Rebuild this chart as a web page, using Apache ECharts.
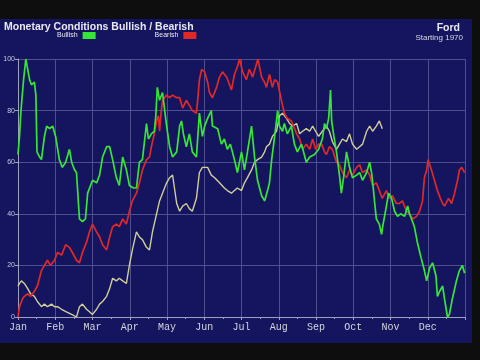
<!DOCTYPE html>
<html><head><meta charset="utf-8">
<script src="https://cdn.jsdelivr.net/npm/echarts@6/dist/echarts.min.js"></script>
<style>html,body{margin:0;padding:0;background:#0e0e0e}#c{width:480px;height:360px}</style>
</head><body><div id="c"></div>
<script>
// x values are in months from Jan 1 (0 = Jan, 12 = end of Dec)
const monthLabels = ['Jan','Feb','Mar','Apr','May','Jun','Jul','Aug','Sep','Oct','Nov','Dec'];
const yTicks = [0,20,40,60,80,100];

const bullishX = [0.00,0.04,0.08,0.15,0.21,0.26,0.31,0.36,0.44,0.48,0.51,0.58,0.63,0.71,0.77,0.85,0.93,1.01,1.11,1.19,1.28,1.38,1.44,1.52,1.57,1.65,1.73,1.81,1.87,2.00,2.11,2.19,2.27,2.38,2.46,2.54,2.64,2.72,2.81,2.91,2.99,3.10,3.18,3.26,3.34,3.45,3.50,3.58,3.66,3.70,3.74,3.80,3.88,3.93,3.99,4.07,4.15,4.26,4.34,4.39,4.44,4.52,4.60,4.68,4.79,4.87,4.95,5.01,5.09,5.19,5.22,5.36,5.46,5.54,5.62,5.70,5.81,5.89,6.00,6.08,6.16,6.27,6.35,6.43,6.54,6.62,6.70,6.75,6.81,6.89,6.97,7.02,7.10,7.15,7.23,7.34,7.42,7.50,7.61,7.74,7.83,7.96,8.07,8.17,8.23,8.28,8.34,8.39,8.42,8.47,8.55,8.63,8.68,8.74,8.82,8.90,8.98,9.09,9.17,9.25,9.36,9.44,9.49,9.53,9.57,9.62,9.70,9.76,9.79,9.84,9.89,9.95,10.03,10.11,10.19,10.27,10.38,10.46,10.51,10.59,10.64,10.72,10.82,10.91,10.97,11.05,11.13,11.22,11.26,11.32,11.40,11.45,11.53,11.58,11.66,11.77,11.85,11.93,11.99];
const bullishY = [63,70,80,92,100,96,92,90,91,86,64,62,61,70,74,73,74,70,61,58,60,65,60,57,56,38,37,38,48,53,52,55,62,66,66,61,54,51,62,57,51,50,50,60,61,75,69,71,72,78,89,84,87,81,74,66,62,64,74,76,71,66,71,64,62,79,70,74,77,80,74,73,67,69,65,67,61,56,64,57,64,74,62,53,47,45,49,52,61,70,80,74,72,75,71,74,67,64,67,60,62,63,65,69,75,73,77,88,76,71,64,55,48,54,64,58,54,55,56,53,56,60,56,51,45,38,36,32,35,39,43,48,46,41,39,40,39,43,40,37,35,29,23,18,14,19,21,16,8,10,12,7,0,1,7,14,18,20,17];

const bearishX = [0.00,0.04,0.12,0.17,0.26,0.34,0.44,0.52,0.63,0.71,0.79,0.87,0.98,1.06,1.17,1.28,1.38,1.46,1.57,1.65,1.73,1.84,1.92,2.00,2.11,2.19,2.27,2.38,2.46,2.54,2.64,2.72,2.81,2.91,2.99,3.07,3.18,3.26,3.34,3.45,3.53,3.58,3.66,3.72,3.77,3.80,3.84,3.88,3.99,4.07,4.15,4.26,4.34,4.42,4.52,4.60,4.68,4.79,4.83,4.87,4.93,5.01,5.09,5.14,5.22,5.33,5.41,5.49,5.60,5.68,5.73,5.81,5.89,5.95,6.03,6.13,6.21,6.30,6.40,6.44,6.54,6.62,6.67,6.75,6.83,6.89,6.97,7.07,7.15,7.23,7.34,7.48,7.56,7.64,7.74,7.83,7.91,7.99,8.07,8.15,8.23,8.28,8.36,8.44,8.55,8.63,8.71,8.82,8.90,8.98,9.09,9.17,9.25,9.36,9.44,9.52,9.62,9.70,9.78,9.89,9.97,10.05,10.16,10.24,10.32,10.43,10.51,10.59,10.70,10.78,10.86,10.91,10.97,11.01,11.10,11.18,11.26,11.34,11.40,11.45,11.50,11.56,11.64,11.72,11.80,11.85,11.91,11.99];
const bearishY = [0,4,7,8,9,8,10,12,18,20,22,20,22,25,24,28,27,25,22,21,25,29,33,36,33,31,28,26,31,35,36,35,38,36,41,45,48,52,57,61,62,66,71,76,78,72,79,84,86,85,86,85,85,81,84,82,80,79,85,92,96,95,91,87,85,89,93,95,93,90,88,94,97,100,95,92,96,93,98,100,93,91,89,94,89,92,91,84,79,77,76,71,69,65,67,65,69,65,67,67,64,63,66,65,60,59,56,54,57,55,58,59,56,57,55,51,52,49,46,49,46,47,44,44,45,41,40,38,39,41,45,54,57,61,57,53,49,46,44,43,43,46,44,48,53,57,58,56];

const fordX = [0.00,0.04,0.09,0.17,0.26,0.34,0.44,0.52,0.63,0.71,0.79,0.90,0.98,1.06,1.17,1.30,1.44,1.57,1.65,1.73,1.84,1.92,2.00,2.11,2.19,2.27,2.38,2.46,2.54,2.64,2.72,2.81,2.91,2.99,3.07,3.18,3.26,3.34,3.45,3.53,3.61,3.72,3.80,3.88,3.99,4.07,4.15,4.20,4.26,4.34,4.42,4.52,4.60,4.68,4.79,4.87,4.95,5.09,5.19,5.28,5.41,5.54,5.62,5.73,5.81,5.89,6.00,6.08,6.16,6.27,6.35,6.43,6.54,6.62,6.67,6.75,6.83,6.94,7.02,7.10,7.21,7.29,7.37,7.48,7.56,7.64,7.74,7.83,7.91,7.99,8.07,8.17,8.28,8.36,8.44,8.55,8.63,8.71,8.82,8.90,8.98,9.09,9.17,9.25,9.36,9.44,9.52,9.62,9.70,9.78];
const fordY = [12,13,14,13,11,9,8,6,4,5,4,5,4,4,3,2,1,0,4,5,3,2,1,3,5,6,8,11,15,14,15,14,13,20,26,33,31,30,27,26,33,40,45,48,52,54,55,50,44,41,43,44,42,41,46,56,58,58,55,54,52,50,49,48,49,50,49,52,54,57,60,61,62,64,66,67,70,72,78,79,77,75,74,75,71,72,73,72,74,72,70,72,74,72,68,65,67,69,68,71,67,65,66,67,72,74,72,74,76,73];

const zip = (xs, ys) => xs.map((x, i) => [x, ys[i]]);

const chart = echarts.init(document.getElementById('c'), null, {renderer: 'canvas'});
const gridCol = '#4e4e90';
chart.setOption({
  backgroundColor: '#0e0e0e',
  animation: false,
  graphic: [
    {type: 'rect', z: -10, shape: {x: 0, y: 19, width: 472, height: 324}, style: {fill: '#15155f'}},
    {type: 'text', z: 10, x: 4, y: 22, style: {text: 'Monetary Conditions Bullish / Bearish', fill: '#e8e8f0', font: 'bold 10.5px "Liberation Sans", Arial, sans-serif', textVerticalAlign: 'top'}},
    {type: 'text', z: 10, x: 460, y: 23, style: {text: 'Ford', fill: '#e8e8f0', font: 'bold 10.5px "Liberation Sans", Arial, sans-serif', textAlign: 'right', textVerticalAlign: 'top'}},
    {type: 'text', z: 10, x: 463, y: 34, style: {text: 'Starting 1970', fill: '#d8d8e4', font: '8px "Liberation Sans", Arial, sans-serif', textAlign: 'right', textVerticalAlign: 'top'}}
  ],
  legend: {
    data: ['Bullish', 'Bearish'],
    left: 57, top: 32, align: 'right', itemGap: 59,
    itemWidth: 13, itemHeight: 7, icon: 'rect',
    textStyle: {color: '#e8e8f0', fontSize: 7, fontFamily: '"Liberation Sans", Arial, sans-serif', padding: 0},
    padding: 0
  },
  grid: {left: 18, right: 15, top: 59, bottom: 43, containLabel: false},
  xAxis: {
    type: 'value', min: 0, max: 12, interval: 1,
    axisLine: {show: true, lineStyle: {color: '#a0a0c0', width: 1}},
    axisTick: {show: true, length: 3, lineStyle: {color: '#a0a0c0'}},
    minorTick: {show: true, splitNumber: 2, length: 2, lineStyle: {color: '#a0a0c0'}},
    splitLine: {show: true, lineStyle: {color: gridCol, width: 1}},
    axisLabel: {
      color: '#d4d4dc', fontSize: 10, fontFamily: '"Liberation Mono", "Courier New", monospace', margin: 5,
      formatter: v => (v < 12 ? monthLabels[v] : '')
    }
  },
  yAxis: {
    type: 'value', min: yTicks[0], max: yTicks[yTicks.length - 1], interval: 20,
    axisLine: {show: true, lineStyle: {color: '#a0a0c0', width: 1}},
    axisTick: {show: true, length: 3, lineStyle: {color: '#a0a0c0'}},
    splitLine: {show: true, lineStyle: {color: gridCol, width: 1}},
    axisLabel: {color: '#c8c8d8', fontSize: 7, fontFamily: '"Liberation Sans", Arial, sans-serif', margin: 3}
  },
  series: [
    {name: 'Ford', type: 'line', data: zip(fordX, fordY), showSymbol: false, lineStyle: {color: '#cfcf98', width: 1.4}, itemStyle: {color: '#cfcf98'}, z: 2},
    {name: 'Bearish', type: 'line', data: zip(bearishX, bearishY), showSymbol: false, lineStyle: {color: '#e02828', width: 1.7}, itemStyle: {color: '#e02828'}, z: 3},
    {name: 'Bullish', type: 'line', data: zip(bullishX, bullishY), showSymbol: false, lineStyle: {color: '#36e636', width: 1.7}, itemStyle: {color: '#36e636'}, z: 4}
  ]
});
</script></body></html>
